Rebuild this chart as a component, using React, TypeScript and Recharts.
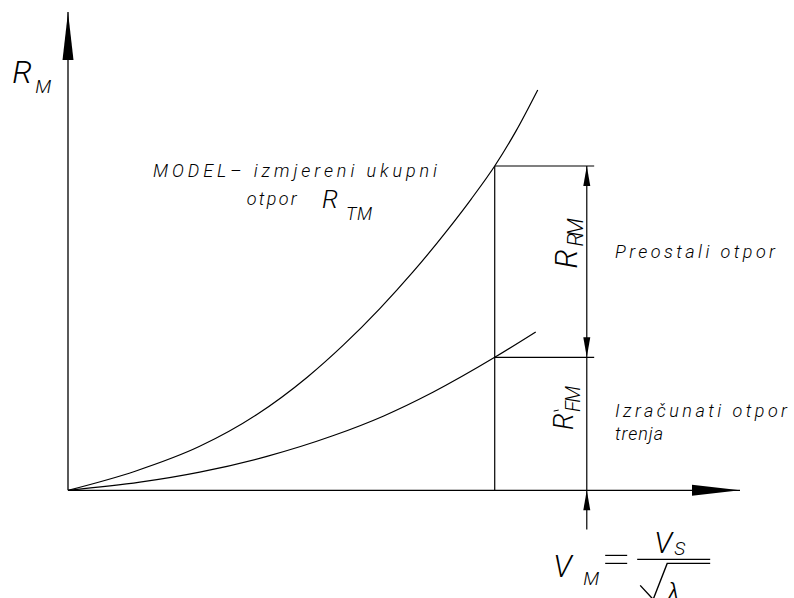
import React from 'react';
import { ComposedChart, Line, XAxis, YAxis, ReferenceLine, ReferenceDot } from 'recharts';

// measured total resistance curve (model)
const totalX = [0, 10, 19.6, 28, 35.6, 41, 46.4, 51.3, 56.4, 60, 63.5, 66.7, 69.9];
const totalY = [0, 4.0, 9.2, 15.75, 23.65, 30.4, 38.0, 45.6, 54.3, 60.9, 67.8, 75.2, 83.7];

// calculated friction resistance curve
const frictionX = [0, 10.7, 19.6, 29.6, 39.4, 46.9, 54.3, 63.5, 69.6];
const frictionY = [0, 1.7, 3.8, 7.1, 11.4, 15.5, 20.5, 27.8, 33.1];

// dimension marks
const markSpeed = 63.5;
const markTotal = 67.8;
const markFriction = 27.8;
const dimX = 77.2;
const extEnd = 78.3;
const dimBottom = -8.2;

const notes = [
  { text: 'MODEL–  izmjereni  ukupni', x: 12.65, y: 65.5, size: 18, width: 284 },
  { text: 'otpor', x: 26.6, y: 59.6, size: 18, width: 50 },
  { text: 'Preostali  otpor', x: 81.4, y: 48.5, size: 18, width: 160 },
  { text: 'Izračunati  otpor', x: 81.4, y: 15.3, size: 18, width: 172 },
  { text: 'trenja', x: 81.4, y: 10.5, size: 18, width: 48 },
];

const totalData = totalX.map((x, i) => ({ x, y: totalY[i] }));
const frictionData = frictionX.map((x, i) => ({ x, y: frictionY[i] }));

const txt = { fontFamily: 'Roboto, "DejaVu Sans", sans-serif', fontStyle: 'italic', fontWeight: 300, fill: '#000' } as const;

const arrow = (dir: 'up' | 'down' | 'right', len: number, half: number) => (p: any) => {
  const { cx, cy } = p;
  let pts = '';
  if (dir === 'up') pts = `${cx},${cy} ${cx - half},${cy + len} ${cx + half},${cy + len}`;
  if (dir === 'down') pts = `${cx},${cy} ${cx - half},${cy - len} ${cx + half},${cy - len}`;
  if (dir === 'right') pts = `${cx},${cy} ${cx - len},${cy - half} ${cx - len},${cy + half}`;
  return <polygon points={pts} fill="#000" />;
};

const note = (n: { text: string; size: number; width: number }) => (p: any) => (
  <text x={p.cx} y={p.cy} fontSize={n.size} textLength={n.width} lengthAdjust="spacing" style={txt}>
    {n.text}
  </text>
);

const symRM = (p: any) => (
  <g>
    <text x={p.cx} y={p.cy} fontSize={32} style={txt}>R</text>
    <text x={p.cx + 23} y={p.cy + 10} fontSize={19} style={txt}>M</text>
  </g>
);

const symRTM = (p: any) => (
  <g>
    <text x={p.cx} y={p.cy} fontSize={26} style={txt}>R</text>
    <text x={p.cx + 24} y={p.cy + 12} fontSize={18} textLength={26} lengthAdjust="spacing" style={txt}>TM</text>
  </g>
);

const symRRM = (p: any) => (
  <g transform={`translate(${p.cx},${p.cy}) rotate(-90)`}>
    <text x={0} y={0} fontSize={31} style={txt}>R</text>
    <text x={22} y={6} fontSize={22} textLength={28} lengthAdjust="spacing" style={txt}>RM</text>
  </g>
);

const symRFM = (p: any) => (
  <g transform={`translate(${p.cx},${p.cy}) rotate(-90)`}>
    <text x={0} y={0} fontSize={27} style={txt}>R</text>
    <line x1={19} y1={-19} x2={20} y2={-14} stroke="#000" strokeWidth={1} />
    <text x={18} y={7} fontSize={20} textLength={26} lengthAdjust="spacing" style={txt}>FM</text>
  </g>
);

const formula = (p: any) => {
  const { cx, cy } = p;
  return (
    <g>
      <text x={cx} y={cy} fontSize={31} style={txt}>V</text>
      <text x={cx + 30} y={cy + 8} fontSize={19} style={txt}>M</text>
      <line x1={cx + 52} y1={cy - 22} x2={cx + 74} y2={cy - 22} stroke="#000" strokeWidth={1.2} />
      <line x1={cx + 52} y1={cy - 14} x2={cx + 74} y2={cy - 14} stroke="#000" strokeWidth={1.2} />
      <text x={cx + 101} y={cy - 24} fontSize={30} style={txt}>V</text>
      <text x={cx + 121} y={cy - 22} fontSize={19} style={txt}>S</text>
      <line x1={cx + 84} y1={cy - 18} x2={cx + 157} y2={cy - 18} stroke="#000" strokeWidth={1.4} />
      <polyline
        points={`${cx + 87},${cy + 8} ${cx + 100},${cy + 22} ${cx + 114},${cy - 14} ${cx + 157},${cy - 14}`}
        fill="none"
        stroke="#000"
        strokeWidth={1.4}
      />
      <text x={cx + 113} y={cy + 26} fontSize={28} style={txt}>λ</text>
    </g>
  );
};

export default function App() {
  return (
    <div style={{ position: 'absolute', left: 0, top: 0, width: 794, height: 598, background: '#fff', overflow: 'hidden' }}>
      <div style={{ position: 'absolute', left: 2, top: -19, fontFamily: '"Liberation Serif", serif', fontSize: 20, color: '#000' }}>
        e odabla
      </div>
      <ComposedChart width={794} height={598} margin={{ top: 12, right: 54, bottom: 12, left: 68 }}>
        <XAxis dataKey="x" type="number" domain={[0, 100]} allowDataOverflow hide />
        <YAxis type="number" domain={[-20, 100]} allowDataOverflow hide />

        {/* axes */}
        <ReferenceLine segment={[{ x: 0, y: 0 }, { x: 0, y: 100 }]} stroke="#000" strokeWidth={1.3} />
        <ReferenceLine segment={[{ x: 0, y: 0 }, { x: 100, y: 0 }]} stroke="#000" strokeWidth={1.3} />
        <ReferenceDot x={0} y={100} shape={arrow('up', 48, 5.5)} />
        <ReferenceDot x={100} y={0} shape={arrow('right', 48, 5.5)} />

        {/* dimension lines */}
        <ReferenceLine segment={[{ x: markSpeed, y: 0 }, { x: markSpeed, y: markTotal }]} stroke="#000" strokeWidth={1.2} />
        <ReferenceLine segment={[{ x: markSpeed, y: markTotal }, { x: extEnd, y: markTotal }]} stroke="#000" strokeWidth={1.2} />
        <ReferenceLine segment={[{ x: markSpeed, y: markFriction }, { x: extEnd, y: markFriction }]} stroke="#000" strokeWidth={1.2} />
        <ReferenceLine segment={[{ x: dimX, y: dimBottom }, { x: dimX, y: markTotal }]} stroke="#000" strokeWidth={1.2} />
        <ReferenceDot x={dimX} y={markTotal} shape={arrow('up', 20, 3.5)} />
        <ReferenceDot x={dimX} y={markFriction} shape={arrow('down', 20, 3.5)} />
        <ReferenceDot x={dimX} y={0} shape={arrow('up', 20, 3.5)} />

        <Line data={totalData} dataKey="y" type="monotone" stroke="#000" strokeWidth={1.2} dot={false} isAnimationActive={false} />
        <Line data={frictionData} dataKey="y" type="monotone" stroke="#000" strokeWidth={1.2} dot={false} isAnimationActive={false} />

        {notes.map((n) => (
          <ReferenceDot key={n.text} x={n.x} y={n.y} shape={note(n)} ifOverflow="visible" />
        ))}
        <ReferenceDot x={-8.3} y={85.1} shape={symRM} ifOverflow="visible" />
        <ReferenceDot x={37.8} y={59.0} shape={symRTM} ifOverflow="visible" />
        <ReferenceDot x={75.8} y={46.4} shape={symRRM} ifOverflow="visible" />
        <ReferenceDot x={75.1} y={12.6} shape={symRFM} ifOverflow="visible" />
        <ReferenceDot x={72.2} y={-18.2} shape={formula} ifOverflow="visible" />
      </ComposedChart>
    </div>
  );
}
